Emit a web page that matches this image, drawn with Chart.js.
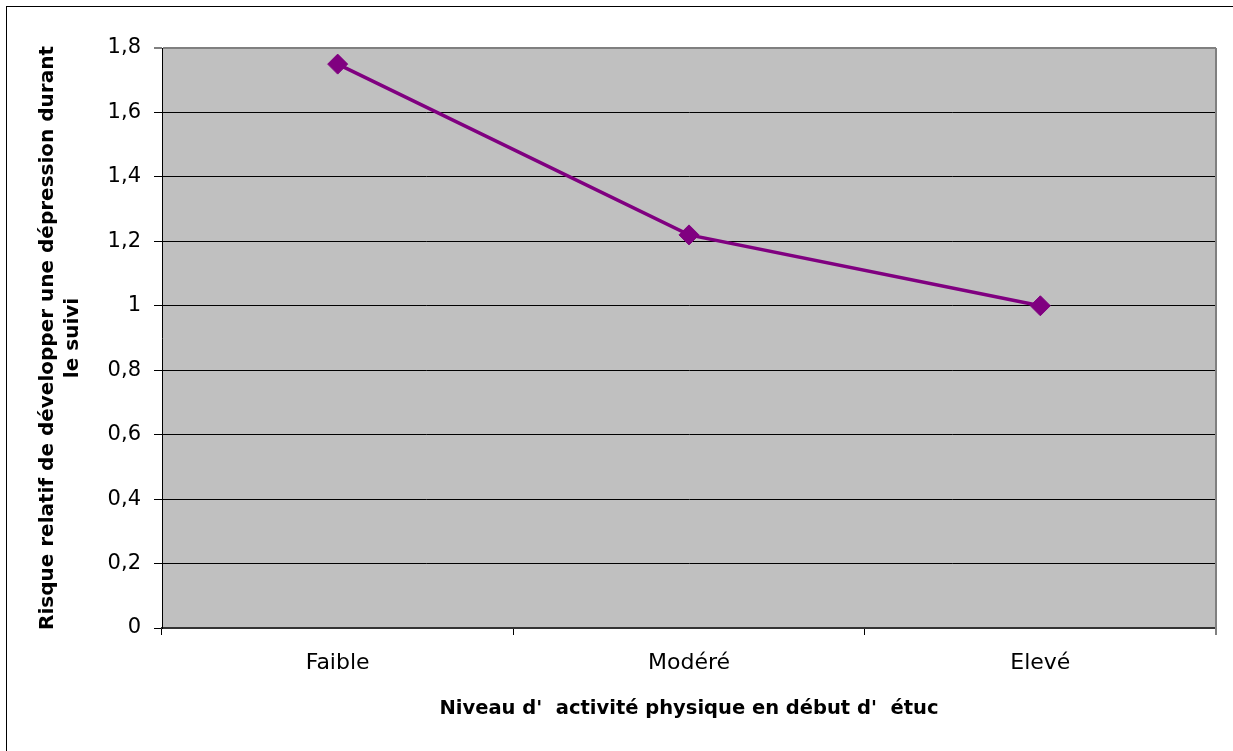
<!DOCTYPE html>
<html>
<head>
<meta charset="utf-8">
<script src="https://cdn.jsdelivr.net/npm/chart.js@4.4.1/dist/chart.umd.min.js"></script>
<style>
  html, body { margin: 0; padding: 0; background: #fff; }
  #wrap { position: relative; width: 1233px; height: 751px; overflow: hidden; }
  #frame { position: absolute; left: 6px; top: 6px; width: 1400px; height: 900px;
           border-left: 1px solid #000; border-top: 1px solid #000; pointer-events: none; }
  canvas { position: absolute; left: 0; top: 0; }
</style>
</head>
<body>
<div id="wrap">
  <canvas id="c" width="1233" height="751"></canvas>
  <div id="frame"></div>
</div>
<script>
const categories = ['Faible', 'Modéré', 'Elevé'];
const riskValues = [1.75, 1.22, 1.0];
const yTickValues = [0, 0.2, 0.4, 0.6, 0.8, 1, 1.2, 1.4, 1.6, 1.8];
const yTickLabels = ['0', '0,2', '0,4', '0,6', '0,8', '1', '1,2', '1,4', '1,6', '1,8'];
const xTitle = "Niveau d'  activité physique en début d'  étuc";
const yTitle = ['Risque relatif de développer une dépression durant', 'le suivi'];

const FONT = "'DejaVu Sans', 'Liberation Sans', Arial, sans-serif";
Chart.defaults.font.family = FONT;
Chart.defaults.color = '#000';

const plotBg = {
  id: 'plotBg',
  beforeDraw(chart) {
    const {ctx, chartArea: a} = chart;
    ctx.save();
    ctx.fillStyle = '#C0C0C0';
    ctx.fillRect(a.left, a.top, a.right - a.left, a.bottom - a.top);
    ctx.restore();
  },
  beforeDatasetsDraw(chart) {
    const {ctx, chartArea: a} = chart;
    ctx.save();
    ctx.strokeStyle = '#808080';
    ctx.lineWidth = 2;
    ctx.beginPath();
    ctx.moveTo(a.right, a.top);
    ctx.lineTo(a.right, a.bottom + 7);
    ctx.stroke();
    ctx.restore();
  }
};

new Chart(document.getElementById('c'), {
  type: 'line',
  data: {
    labels: categories,
    datasets: [{
      data: riskValues,
      borderColor: '#800080',
      backgroundColor: '#800080',
      borderWidth: 3.5,
      pointStyle: 'rectRot',
      pointRadius: 10,
      pointBorderWidth: 1,
      pointBackgroundColor: '#800080',
      pointBorderColor: '#800080',
      tension: 0,
      fill: false
    }]
  },
  options: {
    responsive: false,
    animation: false,
    events: [],
    layout: { padding: { top: 48, right: 17, bottom: 0, left: 0 } },
    plugins: { legend: { display: false }, tooltip: { enabled: false }, title: { display: false } },
    scales: {
      x: {
        type: 'category',
        offset: true,
        afterFit(scale) { scale.height = 123; },
        grid: {
          offset: true,
          drawOnChartArea: false,
          drawTicks: true,
          tickLength: 7,
          color: '#000',
          lineWidth: 1
        },
        border: { display: true, color: '#333', width: 2 },
        ticks: { font: { size: 22, family: FONT }, color: '#000', padding: 15, maxRotation: 0 },
        title: {
          display: true,
          text: xTitle,
          font: { size: 19.5, weight: 'bold', family: FONT },
          color: '#000',
          padding: { top: 0, bottom: 30 }
        }
      },
      y: {
        min: 0,
        max: 1.8,
        afterFit(scale) { scale.width = 162; },
        afterBuildTicks(scale) { scale.ticks = yTickValues.map(v => ({ value: v })); },
        grid: {
          color: (ctx) => (ctx.tick && ctx.tick.value === 1.8 ? '#808080' : '#000'),
          lineWidth: (ctx) => (ctx.tick && ctx.tick.value === 1.8 ? 2 : 1),
          tickLength: 8,
          drawTicks: true
        },
        border: { display: true, color: '#000', width: 1 },
        ticks: {
          font: { size: 21, family: FONT },
          color: '#000',
          padding: 13,
          callback: (value, index) => yTickLabels[index]
        },
        title: {
          display: true,
          text: yTitle,
          font: { size: 20, weight: 'bold', family: FONT, lineHeight: 1.25 },
          color: '#000',
          padding: { top: 35, bottom: 0 }
        }
      }
    }
  },
  plugins: [plotBg]
});
</script>
</body>
</html>
